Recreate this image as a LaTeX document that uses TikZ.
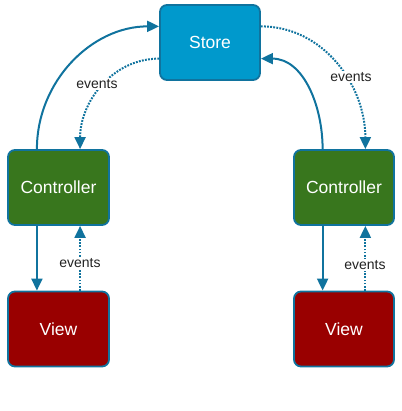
\documentclass[tikz,border=0pt]{standalone}
\usepackage{fontspec}
\setmainfont{Liberation Sans}
\usetikzlibrary{arrows.meta,calc}
\definecolor{storefill}{HTML}{0099CC}
\definecolor{ctrlfill}{HTML}{38761D}
\definecolor{viewfill}{HTML}{990000}
\definecolor{edge}{HTML}{10739E}
\definecolor{labeltext}{HTML}{222222}
\tikzset{
  box/.style={draw=edge, line width=1.8pt, rounded corners=7pt, minimum width=101pt, minimum height=75pt, inner sep=0pt, text=white, font=\fontsize{17.5}{20}\selectfont},
  solidarrow/.style={draw=edge, line width=2pt, -{Triangle[length=12pt,width=11pt]}},
  eventarrow/.style={draw=edge, line width=2pt, dash pattern=on 1.8pt off 1.3pt, -{Triangle[length=12pt,width=11pt]}},
  evlabel/.style={fill=white, inner sep=1pt, text=labeltext, font=\fontsize{14}{16}\selectfont}
}
\begin{document}
\begin{tikzpicture}[x=1pt,y=-1pt]
\useasboundingbox (0,0) rectangle (401,411);
\node[box, fill=storefill, minimum width=100pt] (store) at (210,42.5) {Store};
\node[box, fill=ctrlfill] (cl) at (58.5,187.5) {Controller};
\node[box, fill=ctrlfill, minimum width=100pt] (cr) at (344,187.5) {Controller};
\node[box, fill=viewfill] (vl) at (58.5,329) {View};
\node[box, fill=viewfill, minimum width=100pt] (vr) at (344,329) {View};
% top connections
\draw[solidarrow] ($(cl.north west)!0.29!(cl.north east)$) to[out=90,in=180] ($(store.north west)!0.29!(store.south west)$);
\draw[eventarrow] ($(store.north west)!0.71!(store.south west)$) to[out=180,in=90] ($(cl.north west)!0.71!(cl.north east)$);
\draw[eventarrow] ($(store.north east)!0.29!(store.south east)$) to[out=0,in=90] ($(cr.north west)!0.71!(cr.north east)$);
\draw[solidarrow] ($(cr.north west)!0.29!(cr.north east)$) to[out=90,in=0] ($(store.north east)!0.71!(store.south east)$);
% bottom connections
\draw[solidarrow] ($(cl.south west)!0.29!(cl.south east)$) -- ($(vl.north west)!0.29!(vl.north east)$);
\draw[eventarrow] ($(vl.north west)!0.71!(vl.north east)$) -- ($(cl.south west)!0.71!(cl.south east)$);
\draw[solidarrow] ($(cr.south west)!0.29!(cr.south east)$) -- ($(vr.north west)!0.29!(vr.north east)$);
\draw[eventarrow] ($(vr.north west)!0.71!(vr.north east)$) -- ($(cr.south west)!0.71!(cr.south east)$);
% labels
\node[evlabel] (ev1) at (97,84) {events};
\node[evlabel] (ev2) at (351,77) {events};
\node[evlabel] (ev3) at (80,263) {events};
\node[evlabel] (ev4) at (365,265) {events};
\end{tikzpicture}
\end{document}
